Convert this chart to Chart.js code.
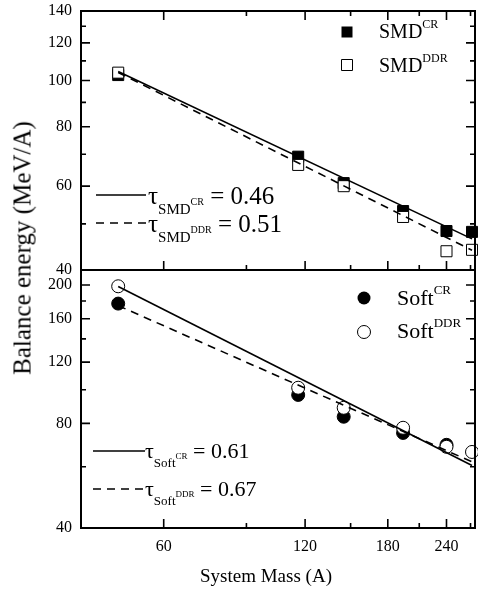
<!DOCTYPE html>
<html>
<head>
<meta charset="utf-8">
<script src="https://cdn.jsdelivr.net/npm/chart.js@4.4.0/dist/chart.umd.min.js"></script>
<style>
body { margin: 0; background: #fff; }
#wrap { position: relative; width: 478px; height: 589px; overflow: hidden; background: #fff;
        font-family: "Liberation Serif", "Times New Roman", serif; color: #000; }
canvas { position: absolute; left: 0; }
.t { position: absolute; white-space: nowrap; line-height: 1; }
.lg { font-size: 20px; }
.sp { font-size: 12px; position: relative; top: -10px; }
.lg2 { font-size: 22px; }
.lg2 .sp { font-size: 13px; top: -11px; }
.tau { font-size: 22px; }
.sb { font-size: 13px; position: relative; top: 9px; }
.sp2 { font-size: 9px; position: relative; top: -8px; }
.big { font-size: 25px; }
.big .sb { font-size: 15px; top: 10px; }
.big .sp2 { font-size: 10px; top: -9px; }
</style>
</head>
<body>
<div id="wrap">
  <canvas id="top" width="478" height="280" style="top:0"></canvas>
  <canvas id="bot" width="478" height="329" style="top:260px"></canvas>

  <div class="t lg" style="left:379px;top:21px">SMD<span class="sp">CR</span></div>
  <div class="t lg" style="left:379px;top:55px">SMD<span class="sp">DDR</span></div>
  <div class="t lg2" style="left:397px;top:287px">Soft<span class="sp">CR</span></div>
  <div class="t lg2" style="left:397px;top:320px">Soft<span class="sp">DDR</span></div>

  <div class="t tau big" style="left:148px;top:183px">&tau;<span class="sb">SMD<span class="sp2">CR</span></span> = 0.46</div>
  <div class="t tau big" style="left:148px;top:211px">&tau;<span class="sb">SMD<span class="sp2">DDR</span></span> = 0.51</div>
  <div class="t tau" style="left:145px;top:440px">&tau;<span class="sb">Soft<span class="sp2">CR</span></span> = 0.61</div>
  <div class="t tau" style="left:145px;top:478px">&tau;<span class="sb">Soft<span class="sp2">DDR</span></span> = 0.67</div>

  <div class="t" style="font-size:25px;left:22px;top:248px;transform:translate(-50%,-50%) rotate(-90deg)">Balance energy (MeV/A)</div>
  <div class="t" style="font-size:19px;left:266px;top:566px;transform:translateX(-50%)">System Mass (A)</div>
</div>
<script>
// values
var systemMass = [48, 116, 145, 194, 240, 272];
var smdCR   = [102.7, 69.2, 60.9, 53.2, 48.3, 48.1];
var smdDDR  = [103.9, 66.5, 60.0, 51.7, 43.8, 44.1];
var softCR  = [176.9, 96.6, 83.6, 75.1, 69.4, null];
var softDDR = [198.4, 101.3, 88.7, 77.7, 68.5, 66.2];

// end points of the fitted power laws (straight on log-log axes)
var fitMass    = [48, 272];
var fitSmdCR   = [104.5, 46.5];
var fitSmdDDR  = [104, 44];
var fitSoftCR  = [198, 60.5];
var fitSoftDDR = [174.5, 62];

var xMajor = [60, 120, 180, 240];
var xMinor = [90, 150, 210, 270];
var yTopMajor = [40, 60, 80, 100, 120, 140];
var yTopMinor = [50, 70, 90, 110, 130];
var yBotMajor = [40, 80, 120, 160, 200];
var yBotMinor = [60, 100, 140, 180];

var FONT = '"Liberation Serif", "Times New Roman", serif';

function pts(xs, ys) {
  var out = [];
  xs.forEach(function (x, i) { if (ys[i] != null) out.push({ x: x, y: ys[i] }); });
  return out;
}

function markers(label, ys, style, filled, r) {
  return {
    type: 'scatter', label: label, data: pts(systemMass, ys),
    pointStyle: style, pointRadius: r, pointBorderWidth: 1,
    pointBackgroundColor: filled ? '#000' : '#fff', pointBorderColor: '#000',
    clip: 10, order: filled ? 2 : 1
  };
}

function fit(label, ys, dashed) {
  return {
    type: 'line', label: label, data: pts(fitMass, ys),
    borderColor: '#000', borderWidth: 1.6, pointRadius: 0,
    borderDash: dashed ? [8, 6] : [], fill: false, order: 0
  };
}

// no extra room for half labels at the ends, the plot box is placed by hand
function noPad(s) { s.paddingTop = 0; s.paddingBottom = 0; s.paddingLeft = 0; s.paddingRight = 0; }

// box, inward ticks, legend symbols and line samples
var framePlugin = {
  id: 'frame',
  afterDatasetsDraw: function (chart, args, o) {
    var a = chart.chartArea, ctx = chart.ctx, xs = chart.scales.x, ys = chart.scales.y;
    ctx.save();
    ctx.strokeStyle = '#000';
    ctx.fillStyle = '#000';
    ctx.lineWidth = 2;
    ctx.setLineDash([]);
    ctx.strokeRect(a.left, a.top, a.right - a.left, a.bottom - a.top);
    ctx.lineWidth = 1.6;
    ctx.beginPath();
    function yt(v, len) {
      var p = ys.getPixelForValue(v);
      ctx.moveTo(a.left, p); ctx.lineTo(a.left + len, p);
      ctx.moveTo(a.right, p); ctx.lineTo(a.right - len, p);
    }
    function xt(v, len) {
      var p = xs.getPixelForValue(v);
      ctx.moveTo(p, a.bottom); ctx.lineTo(p, a.bottom - len);
      if (o.topTicks) { ctx.moveTo(p, a.top); ctx.lineTo(p, a.top + len); }
    }
    o.yMajor.forEach(function (v) { yt(v, 9); });
    o.yMinor.forEach(function (v) { yt(v, 5); });
    xMajor.forEach(function (v) { xt(v, 9); });
    xMinor.forEach(function (v) { xt(v, 5); });
    ctx.stroke();

    o.symbols.forEach(function (s) {
      ctx.beginPath();
      if (s.shape === 'rect') ctx.rect(s.x - 5.5, s.y - 5.5, 11, 11);
      else ctx.arc(s.x, s.y, 6.5, 0, Math.PI * 2);
      ctx.lineWidth = 1;
      if (s.filled) ctx.fill(); else ctx.stroke();
    });
    o.samples.forEach(function (s) {
      ctx.beginPath();
      ctx.lineWidth = 1.6;
      ctx.setLineDash(s.dashed ? [8, 6] : []);
      ctx.moveTo(s.x0, s.y); ctx.lineTo(s.x1, s.y);
      ctx.stroke();
    });
    ctx.restore();
  }
};

function panel(id, o) {
  return new Chart(document.getElementById(id), {
    type: 'scatter',
    data: { datasets: o.datasets },
    options: {
      responsive: false,
      animation: false,
      layout: { padding: o.padding, autoPadding: false },
      plugins: { legend: { display: false }, tooltip: { enabled: false }, frame: o.frame },
      scales: {
        x: {
          type: 'logarithmic', min: 40, max: 276, display: o.showX,
          afterBuildTicks: function (s) { s.ticks = xMajor.concat(xMinor).map(function (v) { return { value: v }; }); },
          afterFit: function (s) { noPad(s); if (o.showX) s.height = 61; },
          grid: { display: false, drawTicks: false }, border: { display: false },
          ticks: {
            autoSkip: false, maxRotation: 0, padding: 9, color: '#000',
            font: { family: FONT, size: 16 },
            callback: function (v) { return xMajor.indexOf(v) >= 0 ? String(v) : ''; }
          }
        },
        y: {
          type: 'logarithmic', min: o.yMin, max: o.yMax,
          afterBuildTicks: function (s) { s.ticks = o.frame.yMajor.concat(o.frame.yMinor).map(function (v) { return { value: v }; }); },
          afterFit: function (s) { noPad(s); s.width = 81; },
          grid: { display: false, drawTicks: false }, border: { display: false },
          ticks: {
            autoSkip: false, padding: 9, color: '#000',
            font: { family: FONT, size: 16 },
            callback: function (v) { return o.frame.yMajor.indexOf(v) >= 0 ? String(v) : ''; }
          }
        }
      }
    },
    plugins: [framePlugin]
  });
}

panel('top', {
  showX: false, yMin: 40, yMax: 140,
  padding: { top: 11, bottom: 10, right: 3, left: 0 },
  datasets: [
    fit('fit CR', fitSmdCR, false),
    fit('fit DDR', fitSmdDDR, true),
    markers('SMD CR', smdCR, 'rect', true, 7.8),
    markers('SMD DDR', smdDDR, 'rect', false, 7.8)
  ],
  frame: {
    topTicks: true, yMajor: yTopMajor, yMinor: yTopMinor,
    symbols: [{ shape: 'rect', filled: true, x: 347, y: 32 }, { shape: 'rect', filled: false, x: 347, y: 65 }],
    samples: [{ x0: 96, x1: 146, y: 195, dashed: false }, { x0: 96, x1: 146, y: 223, dashed: true }]
  }
});

panel('bot', {
  showX: true, yMin: 40, yMax: 221,
  padding: { top: 10, bottom: 0, right: 3, left: 0 },
  datasets: [
    fit('fit CR', fitSoftCR, false),
    fit('fit DDR', fitSoftDDR, true),
    markers('Soft CR', softCR, 'circle', true, 6.5),
    markers('Soft DDR', softDDR, 'circle', false, 6.5)
  ],
  frame: {
    topTicks: false, yMajor: yBotMajor, yMinor: yBotMinor,
    symbols: [{ shape: 'circle', filled: true, x: 364, y: 38 }, { shape: 'circle', filled: false, x: 364, y: 72 }],
    samples: [{ x0: 93, x1: 145, y: 191, dashed: false }, { x0: 93, x1: 145, y: 229, dashed: true }]
  }
});
</script>
</body>
</html>
